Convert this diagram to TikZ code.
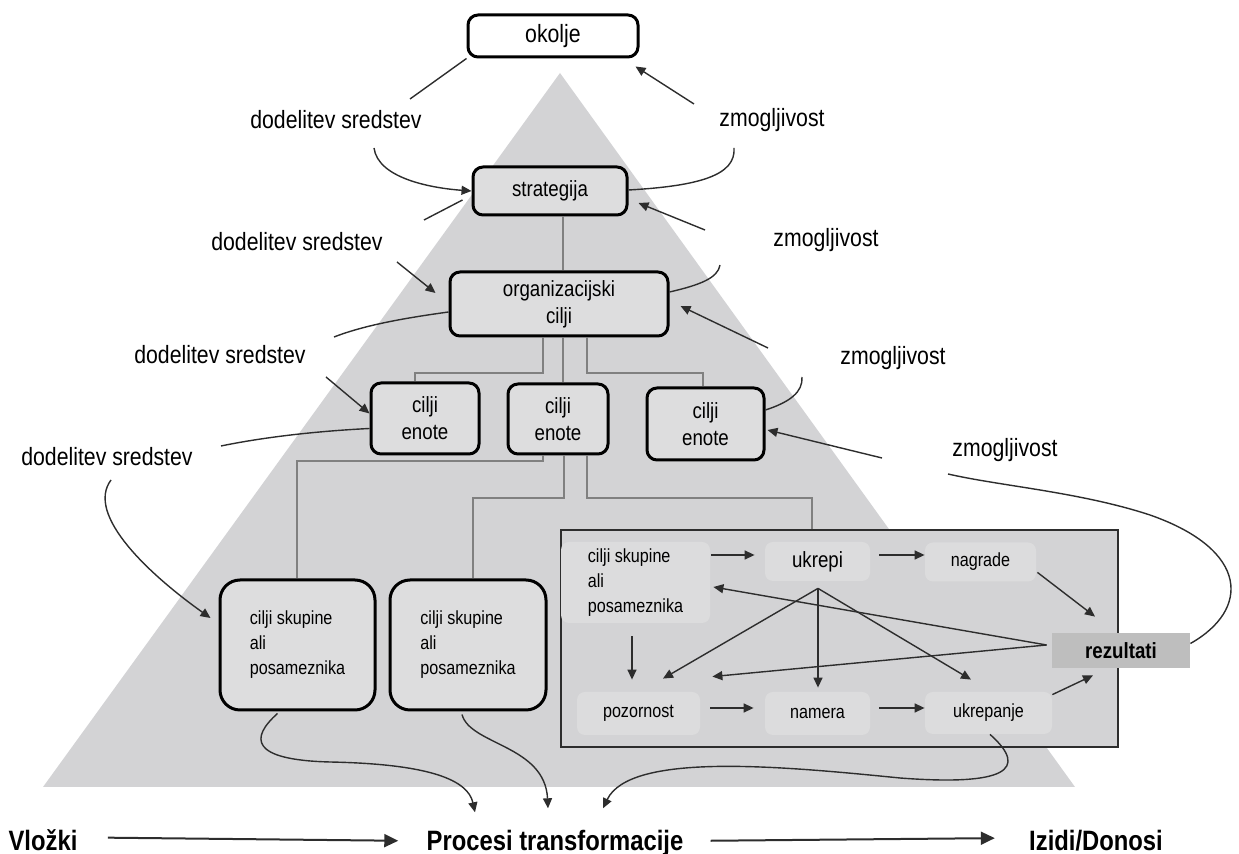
\documentclass[tikz,border=0pt]{standalone}
\usepackage{fontspec}
\setmainfont{Liberation Sans}[FakeStretch=0.85]
\usetikzlibrary{arrows.meta,calc}

\definecolor{pyrGray}{RGB}{211,211,213}
\definecolor{boxGray}{RGB}{221,221,222}
\definecolor{cellGray}{RGB}{220,220,221}
\definecolor{resGray}{RGB}{190,190,190}
\definecolor{treeGray}{RGB}{128,128,128}
\definecolor{inkGray}{RGB}{45,45,45}

\begin{document}
\begin{tikzpicture}[
    x=0.5pt, y=-0.5pt,
    lvlBox/.style={
        rectangle, rounded corners=5pt, draw=black, line width=1.5pt,
        fill=boxGray, inner sep=0pt, align=center,
        font=\fontsize{11}{13.5}\selectfont
    },
    envBox/.style={lvlBox, fill=white, font=\fontsize{12.5}{15}\selectfont},
    bigBox/.style={lvlBox, rounded corners=10pt, align=left,
        font=\fontsize{9.5}{12.5}\selectfont},
    panelBox/.style={rectangle, draw=inkGray, line width=1.1pt, fill=pyrGray},
    cell/.style={rectangle, rounded corners=4pt, fill=cellGray, inner sep=0pt,
        font=\fontsize{9.5}{12.5}\selectfont},
    resBox/.style={rectangle, fill=resGray, inner sep=0pt,
        font=\fontsize{11}{13}\selectfont\bfseries},
    sideText/.style={inner sep=1pt, font=\fontsize{12.5}{15}\selectfont},
    flowText/.style={inner sep=0pt, anchor=base,
        font=\fontsize{14}{16}\selectfont\bfseries},
    treeLine/.style={draw=treeGray, line width=1pt},
    feed/.style={draw=inkGray, line width=0.7pt},
    feedArr/.style={feed, -{Triangle[length=5pt,width=4.5pt]}},
    flowArr/.style={draw=inkGray, line width=1pt, -{Triangle[length=7pt,width=6.5pt]}}
]
    \useasboundingbox (0,0) rectangle (1239,854);

    % --- pyramid ---
    \fill[pyrGray] (560,73) -- (1075,787) -- (43,787) -- cycle;

    % --- hierarchy ---
    \node[envBox, minimum width=85pt, minimum height=21pt] (okolje) at (553,36) {okolje};
    \node[lvlBox, minimum width=77pt, minimum height=24pt] (strat) at (550,191) {strategija};
    \node[lvlBox, minimum width=109pt, minimum height=32pt] (org) at (559,304) {organizacijski\\cilji};
    \node[lvlBox, minimum width=54pt, minimum height=35.5pt] (ce1) at (425,418.5) {cilji\\enote};
    \node[lvlBox, minimum width=50pt, minimum height=35pt] (ce2) at (558,419) {cilji\\enote};
    \node[lvlBox, minimum width=58.5pt, minimum height=36pt] (ce3) at (705.5,424) {cilji\\enote};
    \node[bigBox, minimum width=77.5pt, minimum height=65pt] (big1) at (297.5,645) {cilji skupine\\ali\\posameznika};
    \node[bigBox, minimum width=78pt, minimum height=65pt] (big2) at (468,645) {cilji skupine\\ali\\posameznika};

    % --- tree lines ---
    \draw[treeLine] ($(strat.south)+(13,0)$) -- ($(strat.south |- org.north)+(13,0)$);
    \draw[treeLine] ($(org.south)+(-16,0)$) -- ++(0,36) -| ($(ce1.north)+(-10,0)$);
    \draw[treeLine] ($(org.south)+(4,0)$) -- ($(org.south |- ce2.north)+(4,0)$);
    \draw[treeLine] ($(org.south)+(28,0)$) -- ++(0,36) -| ($(ce3.north)+(-3,0)$);
    \draw[treeLine] ($(ce2.south)+(-15,0)$) -- ++(0,6) -| ($(big1.north)+(-1,0)$);
    \draw[treeLine] ($(ce2.south)+(6,0)$) -- ++(0,43) -| ($(big2.north)+(5,0)$);

    % --- motivation panel ---
    \node[panelBox, minimum width=278.5pt, minimum height=108.5pt] (panel) at (839.5,638.5) {};
    \draw[treeLine] ($(ce2.south)+(29,0)$) -- ++(0,43) -| ($(panel.north)+(-27.5,0)$);

    \node[cell, minimum width=74.5pt, minimum height=40.5pt, align=left] (grpGoal) at (635.5,582.5) {cilji skupine\\ali\\posameznika};
    \node[cell, minimum width=52.5pt, minimum height=19.5pt, font=\fontsize{11}{13}\selectfont] (ukrepi) at (817.5,561.5) {ukrepi};
    \node[cell, minimum width=55.5pt, minimum height=19.5pt] (nagrade) at (980.5,562) {nagrade};
    \node[cell, minimum width=61.5pt, minimum height=21.5pt] (pozornost) at (638.5,713.5) {pozornost};
    \node[cell, minimum width=52.5pt, minimum height=21.5pt] (namera) at (817.5,713.5) {namera};
    \node[cell, minimum width=63.5pt, minimum height=21pt] (ukrepanje) at (988.5,713) {ukrepanje};
    \node[resBox, minimum width=69pt, minimum height=17.5pt] (rezultati) at (1121,650.5) {rezultati};

    \draw[feedArr] ($(grpGoal.east |- ukrepi.west)+(1,-6.5)$) -- ($(ukrepi.west)+(-10,-6.5)$);
    \draw[feedArr] ($(ukrepi.east)+(9,-6.5)$) -- ($(nagrade.west)+(0,-7)$);
    \draw[feedArr] ($(grpGoal.south)+(-3.5,13)$) -- ($(pozornost.north)+(-6.5,-12)$);
    \draw[feedArr] ($(ukrepi.south)+(0.5,7)$) -- ($(pozornost.north)+(24.5,-13)$);
    \draw[feedArr] ($(ukrepi.south)+(0.5,7)$) -- ($(namera.north)+(0.5,-4)$);
    \draw[feedArr] ($(ukrepi.south)+(0.5,7)$) -- ($(ukrepanje.north)+(-17.5,-12)$);
    \draw[feedArr] ($(rezultati.west)+(-5,-5.5)$) -- ($(grpGoal.east)+(3,4.5)$);
    \draw[feedArr] ($(rezultati.west)+(-5,-5.5)$) -- ($(pozornost.north east)+(12,-15)$);
    \draw[feedArr] ($(pozornost.east)+(10,-5.5)$) -- ($(namera.west)+(-11,-5.5)$);
    \draw[feedArr] ($(namera.east)+(9,-5.5)$) -- ($(ukrepanje.west)+(0,-5)$);
    \draw[feedArr] ($(nagrade.south east)+(1,-9.5)$) -- ($(rezultati.north)+(-26,-16)$);
    \draw[feedArr] ($(ukrepanje.north east)+(0,3)$) -- ($(rezultati.south)+(-28,7)$);

    % --- resource allocation (left) ---
    \node[sideText] (dl1) at (336,120) {dodelitev sredstev};
    \node[sideText] (dl2) at (297,242) {dodelitev sredstev};
    \node[sideText] (dl3) at (220,355) {dodelitev sredstev};
    \node[sideText] (dl4) at (107,457) {dodelitev sredstev};

    \draw[feed] (okolje.south west) -- (410,99);
    \draw[feedArr] (374,148) .. controls (378,178) and (430,188) .. (strat.west);
    \draw[feed] ($(strat.west)+(-9,9)$) -- (424,220);
    \draw[feedArr] (397,262) -- ($(org.west)+(-13,-11)$);
    \draw[feed] ($(org.west)+(0,8)$) .. controls (405,318) and (365,325) .. (334,337);
    \draw[feedArr] (326,377) -- ($(ce1.west)+(0,-5)$);
    \draw[feed] ($(ce1.west)+(0,10)$) .. controls (300,432) and (250,440) .. (221,446);
    \draw[feedArr] (111,480) .. controls (85,515) and (150,575) .. ($(big1.west)+(-8,-27)$);

    % --- capability (right) ---
    \node[sideText] (zm1) at (772,120) {zmogljivost};
    \node[sideText] (zm2) at (826,240) {zmogljivost};
    \node[sideText] (zm3) at (893,358) {zmogljivost};
    \node[sideText] (zm4) at (1005,450) {zmogljivost};

    \draw[feedArr] (694,104) -- ($(okolje.south east)+(-4,8)$);
    \draw[feed] ($(strat.east)+(0,-1)$) .. controls (700,186) and (736,175) .. (734,148);
    \draw[feedArr] (705,230) -- ($(strat.east)+(10,12)$);
    \draw[feed] ($(org.east)+(0,-12)$) .. controls (700,285) and (718,278) .. (720,265);
    \draw[feedArr] (768,348) -- ($(org.east)+(11,2)$);
    \draw[feed] ($(ce3.east)+(0,-14)$) .. controls (790,402) and (803,392) .. (802,377);
    \draw[feedArr] (882,458) -- ($(ce3.east)+(2,6)$);
    \draw[feed] ($(rezultati.east)+(0,-7)$) .. controls (1250,610) and (1250,550) .. (1150,515)
        .. controls (1080,492) and (1000,486) .. (948,474);

    % --- inputs / transformation / outputs ---
    \node[flowText] (vlozki) at (43,851) {Vložki};
    \node[flowText] (procesi) at (555,851) {Procesi transformacije};
    \node[flowText] (izidi) at (1096,851) {Izidi/Donosi};
    \draw[flowArr] ($(vlozki.east)+(30,-3)$) -- ($(procesi.west)+(-28,-3)$);
    \draw[flowArr] ($(procesi.east)+(27,-3)$) -- ($(izidi.west)+(-34,-3)$);

    \draw[feedArr] ($(big1.south)+(-20,2)$) .. controls (250,738) and (250,760) .. (330,762)
        .. controls (430,764) and (468,780) .. ($(procesi.north)+(-80,-18)$);
    \draw[feedArr] ($(big2.south)+(-6,3)$) .. controls (470,745) and (545,745) .. ($(procesi.north)+(-7,-22)$);
    \draw[feedArr] ($(ukrepanje.south)+(1.5,0)$) .. controls (1030,770) and (1005,786) .. (900,778)
        .. controls (780,766) and (630,752) .. ($(procesi.north)+(48,-22)$);
\end{tikzpicture}
\end{document}
